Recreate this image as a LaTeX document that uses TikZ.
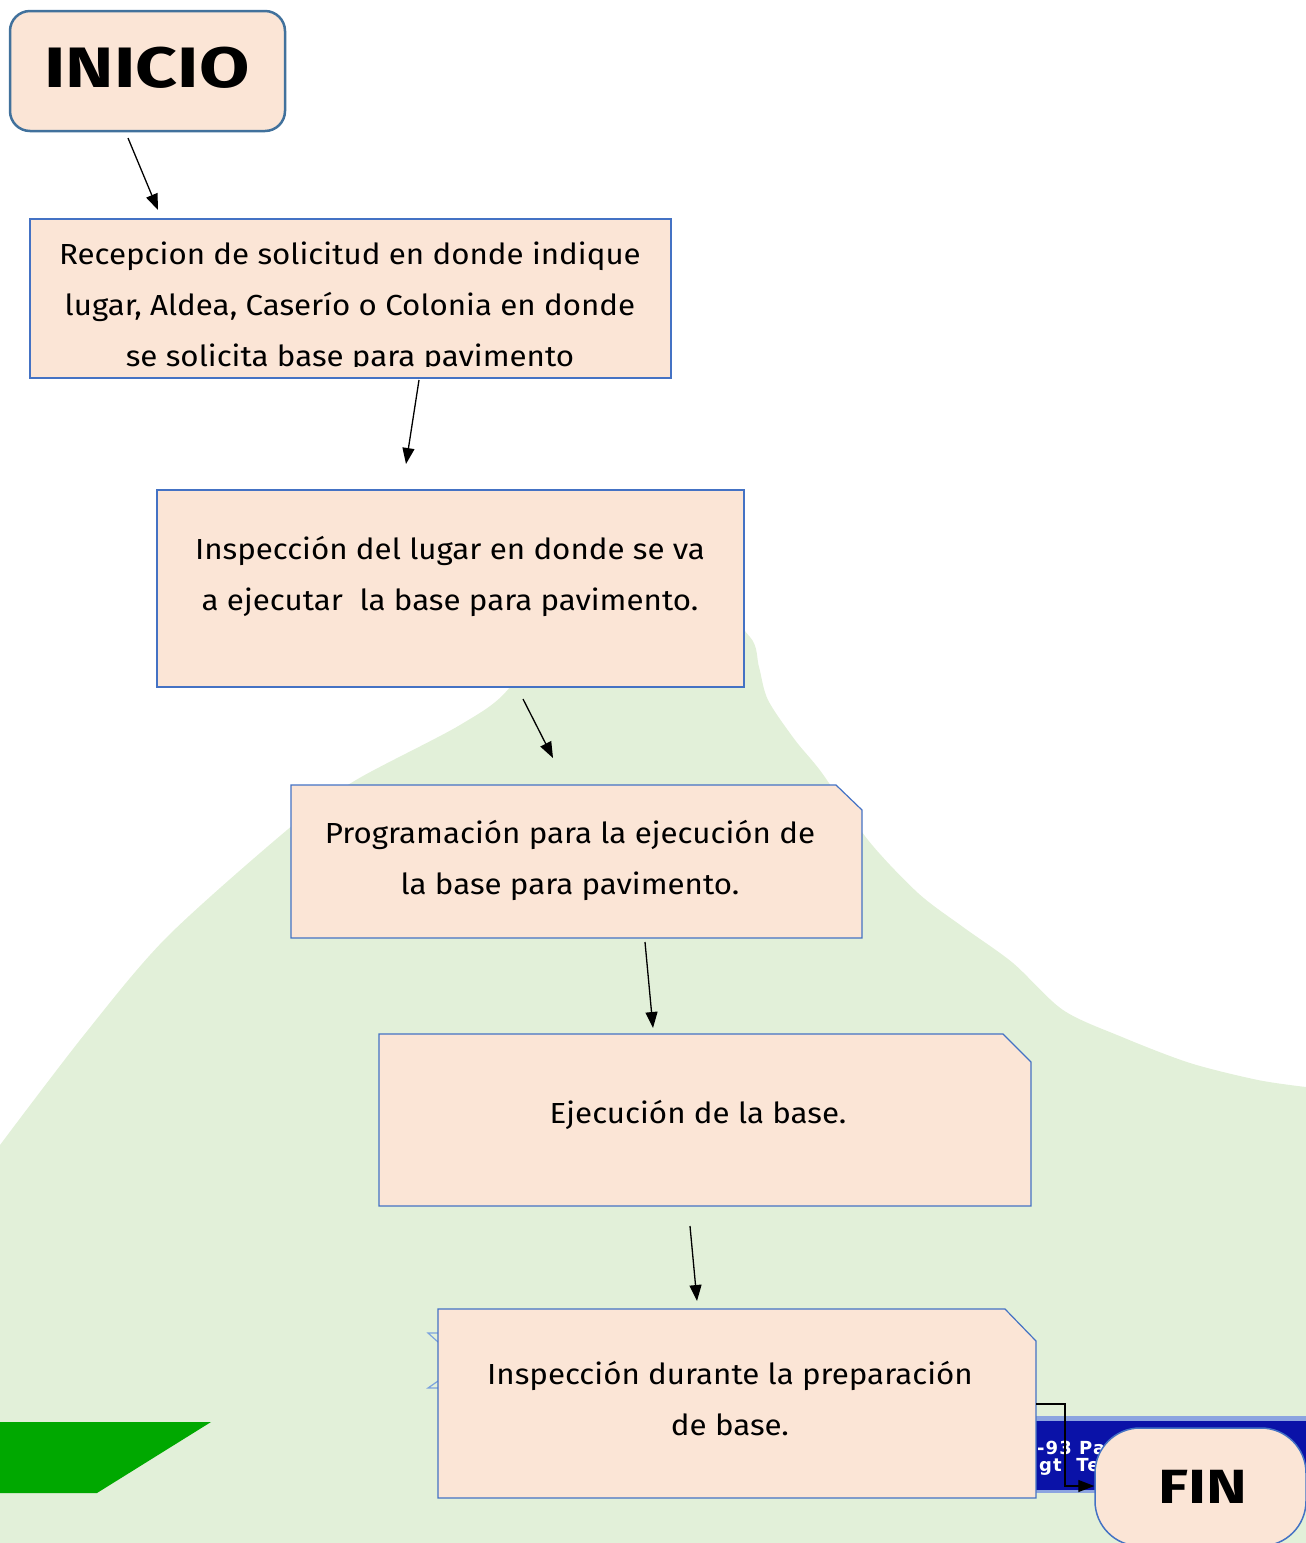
\documentclass[tikz,border=0pt]{standalone}
\usepackage{fontspec}
\setmainfont[FakeStretch=1.08]{Fira Sans}
\newfontfamily\widebold[FakeStretch=1.28]{Fira Sans Bold}
\newfontfamily\barfont[LetterSpace=6]{DejaVu Sans}
\usetikzlibrary{arrows.meta}
\definecolor{peach}{HTML}{FBE5D6}
\definecolor{boxblue}{HTML}{4472C4}
\definecolor{startblue}{HTML}{41719C}
\definecolor{bggreen}{HTML}{E2F0D9}
\definecolor{brightgreen}{HTML}{00A800}
\definecolor{bardark}{HTML}{0A12A8}
\definecolor{barlight}{HTML}{8CA4E0}
\definecolor{marklight}{HTML}{7CA3DE}
\tikzset{
  boxfill/.style={fill=peach, draw=boxblue, line width=1.2pt},
  boxarea/.style={draw=none, fill=none, inner sep=0pt, outer sep=0pt, rectangle},
  boxtext/.style={align=center, inner sep=0pt, font=\fontsize{29}{51}\selectfont},
  arr/.style={draw=black, line width=1.3pt, -{Triangle[length=16pt,width=12pt]}},
  termbox/.style={fill=peach, align=center, inner sep=0pt}
}
\begin{document}
\begin{tikzpicture}[x=1pt,y=-1pt]
\useasboundingbox (0,0) rectangle (1306,1543);
% background green hill
\fill[bggreen] plot[smooth, tension=0.5] coordinates {
 (0,1145) (84,1035) (167,937) (293,825) (356,780) (460,725) (510,687)
 (560,600) (700,600) (750,637) (759,667) (768,700) (795,740) (822,773)
 (868,840) (918,893) (963,927) (1013,963) (1063,1010) (1122,1037)
 (1190,1063) (1258,1080) (1306,1087)} -- (1306,1543) -- (0,1543) -- cycle;
% bright green parallelogram
\fill[brightgreen] (0,1422) -- (211,1422) -- (97,1493) -- (0,1493) -- cycle;
% blue bar
\fill[bardark] (1036,1416) rectangle (1306,1493);
\fill[barlight] (1036,1416) rectangle (1306,1421);
\fill[barlight] (1036,1490) rectangle (1306,1493);
\begin{scope}
\clip (1036,1416) rectangle (1306,1493);
\node[anchor=base west, inner sep=0pt, text=white, font=\barfont\bfseries\fontsize{18}{18}\selectfont] (bartxt1) at (1037,1454) {-93 Pa};
\node[anchor=base west, inner sep=0pt, text=white, font=\barfont\bfseries\fontsize{18}{18}\selectfont] (bartxt2) at (1039,1471) {gt\ \ Te};
\end{scope}
% small marks left of last box
\draw[marklight, line width=1.2pt] (438,1333) -- (428,1333) -- (438,1342);
\draw[marklight, line width=1.2pt] (438,1381) -- (428,1388) -- (438,1388);

% INICIO
\node[termbox, draw=startblue, line width=2.5pt, rounded corners=20pt,
      minimum width=275pt, minimum height=120pt] (inicio) at (147.5,71) {};
\node[inner sep=0pt, font=\widebold\fontsize{57}{60}\selectfont] (initxt) at (147,68) {INICIO};

% Box 1
\node[boxarea, minimum width=641pt, minimum height=159pt] (b1) at (350.5,298.5) {};
\draw[boxfill] (b1.north west) rectangle (b1.south east);
\begin{scope}
\clip (b1.north west) rectangle (671,366);
\node[boxtext] (t1) at (350,307) {Recepcion de solicitud en donde indique\\lugar, Aldea, Caserío o Colonia en donde\\se solicita base para pavimento};
\end{scope}

% Box 2
\node[boxarea, minimum width=587pt, minimum height=197pt] (b2) at (450.5,588.5) {};
\draw[boxfill] (b2.north west) rectangle (b2.south east);
\node[boxtext] (t2) at (450,576) {Inspección del lugar en donde se va\\a ejecutar\ \ la base para pavimento.};

% Box 3
\node[boxarea, minimum width=571pt, minimum height=153pt] (b3) at (576.5,861.5) {};
\draw[boxfill] (b3.north west) -- ([xshift=-26pt]b3.north east) -- ([yshift=-25pt]b3.north east) -- (b3.south east) -- (b3.south west) -- cycle;
\node[boxtext] (t3) at (570,860) {Programación para la ejecución de\\la base para pavimento.};

% Box 4
\node[boxarea, minimum width=652pt, minimum height=172pt] (b4) at (705,1120) {};
\draw[boxfill] (b4.north west) -- ([xshift=-28pt]b4.north east) -- ([yshift=-28pt]b4.north east) -- (b4.south east) -- (b4.south west) -- cycle;
\node[boxtext] (t4) at (698,1115) {Ejecución de la base.};

% Box 5
\node[boxarea, minimum width=598pt, minimum height=189pt] (b5) at (737,1403.5) {};
\draw[boxfill] (b5.north west) -- ([xshift=-31pt]b5.north east) -- ([yshift=-32pt]b5.north east) -- (b5.south east) -- (b5.south west) -- cycle;
\node[boxtext] (t5) at (730,1399) {Inspección durante la preparación\\de base.};

% FIN
\node[termbox, draw=boxblue, line width=1.5pt, rounded corners=45pt,
      minimum width=211pt, minimum height=118pt] (fin) at (1200.5,1487) {};
\node[inner sep=0pt, font=\widebold\fontsize{48}{50}\selectfont] (fintxt) at (1203,1487) {FIN};

% connectors
\coordinate (a1s) at (128,138);  \coordinate (a1e) at (158,210);
\coordinate (a2s) at (419,380);  \coordinate (a2e) at (406,464);
\coordinate (a3s) at (523,699);  \coordinate (a3e) at (553,758);
\coordinate (a4s) at (645,942);  \coordinate (a4e) at (653,1028);
\coordinate (a5s) at (690,1226); \coordinate (a5e) at (697,1301);
\draw[arr] (a1s) -- (a1e);
\draw[arr] (a2s) -- (a2e);
\draw[arr] (a3s) -- (a3e);
\draw[arr] (a4s) -- (a4e);
\draw[arr] (a5s) -- (a5e);
\coordinate (e1) at (1036,1404);
\draw[arr] (e1) -- (1065,1404) -- (1065,1486) -- (fin.west |- 0,1486);
\end{tikzpicture}
\end{document}
